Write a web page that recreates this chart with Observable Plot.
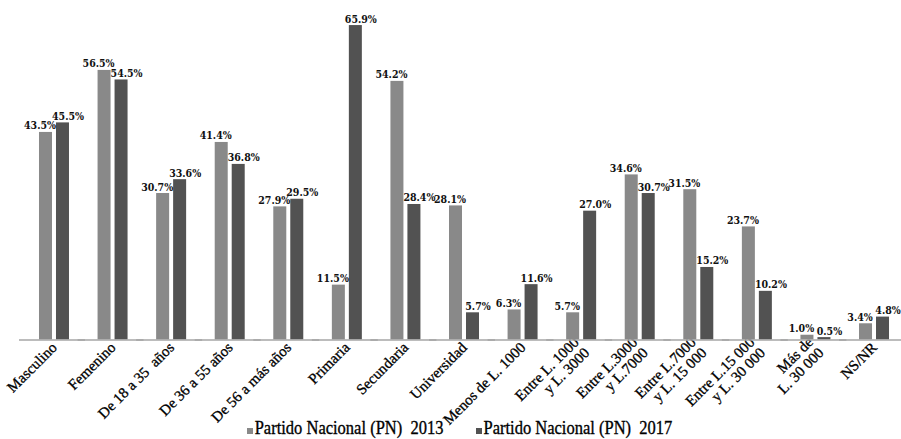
<!DOCTYPE html>
<html>
<head>
<meta charset="utf-8">
<script src="https://cdn.jsdelivr.net/npm/d3@7"></script>
<script src="https://cdn.jsdelivr.net/npm/@observablehq/plot@0.6"></script>
<style>
  html, body { margin: 0; padding: 0; background: #fff; }
  #chart { width: 901px; height: 439px; overflow: hidden; position: relative; }
  #legend { position: absolute; left: 0; top: 418px; width: 901px; height: 21px; line-height: 21px;
    display: flex; justify-content: center; align-items: baseline; gap: 32px;
    font-family: "Liberation Serif", serif; font-size: 16.5px; color: #000; padding-left: 18px; box-sizing: border-box; }
  .item { display: flex; align-items: baseline; white-space: pre; }
  .txt { display: inline-block; transform: scaleY(1.18); transform-origin: 50% 80%; -webkit-text-stroke: 0.3px #000; }
  .sw { width: 6px; height: 6px; display: inline-block; margin-right: 2px; }
</style>
</head>
<body>
<div id="chart"></div>
<script>
const categories = [
  "Masculino", "Femenino", "De 18 a 35  años", "De 36 a 55 años", "De 56 a más años",
  "Primaria", "Secundaria", "Universidad", "Menos de L. 1000",
  "Entre L. 1000\ny L. 3000", "Entre L.3000\ny L.7000", "Entre L.7000\ny L. 15 000",
  "Entre L.15 000\ny L. 30 000", "Más de\nL. 30 000", "NS/NR"
];
const seriesNames = ["Partido Nacional (PN)  2013", "Partido Nacional (PN)  2017"];
const seriesKeys = ["2013", "2017"];
const values2013 = [43.5, 56.5, 30.7, 41.4, 27.9, 11.5, 54.2, 28.1, 6.3, 5.7, 34.6, 31.5, 23.7, 1.0, 3.4];
const values2017 = [45.5, 54.5, 33.6, 36.8, 29.5, 65.9, 28.4, 5.7, 11.6, 27.0, 30.7, 15.2, 10.2, 0.5, 4.8];
const colors = ["#898989", "#525252"];

const data = [];
categories.forEach((c, i) => {
  data.push({cat: c, year: seriesKeys[0], value: values2013[i]});
  data.push({cat: c, year: seriesKeys[1], value: values2017[i]});
});

const labelFont = {fontFamily: "'DejaVu Serif Condensed', 'DejaVu Serif', serif", fontWeight: "bold", fontSize: 10.5, fill: "#111"};

const plot = Plot.plot({
  width: 901,
  height: 439,
  marginLeft: 24.7,
  marginRight: -2.3,
  marginTop: 5.5,
  marginBottom: 99.5,
  style: {fontFamily: "'Liberation Serif', serif", fontSize: "15px", color: "#000", background: "transparent", overflow: "visible"},
  fx: {domain: categories, paddingInner: 0.488, paddingOuter: 0.244, round: false, label: null, axis: "bottom",
       tickRotate: -45, tickSize: 0, tickPadding: 5},
  x: {domain: seriesKeys, paddingInner: 0.235, paddingOuter: 0, round: false, axis: null},
  y: {domain: [0, 70], axis: null},
  color: {domain: seriesKeys, range: colors},
  marks: [
    Plot.barY(data, {fx: "cat", x: "year", y: "value", fill: "year"}),
    Plot.ruleY([0], {stroke: "#a6a6a6", strokeWidth: 1.5, insetLeft: -20, insetRight: -16}),
    Plot.text(data.filter(d => d.year === seriesKeys[0]), {fx: "cat", x: "year", y: "value",
      text: d => d.value.toFixed(1) + "%", dy: -3, dx: -6, lineAnchor: "bottom", ...labelFont}),
    Plot.text(data.filter(d => d.year === seriesKeys[1]), {fx: "cat", x: "year", y: "value",
      text: d => d.value.toFixed(1) + "%", dy: -3, dx: 5, lineAnchor: "bottom", ...labelFont})
  ]
});
// slightly heavier category labels, like the reference
plot.querySelectorAll('g[aria-label="fx-axis tick label"] text, g[aria-label="fx-axis"] text').forEach(t => {
  t.style.stroke = "#000";
  t.style.strokeWidth = "0.3px";
});
document.getElementById("chart").appendChild(plot);

const legend = document.createElement("div");
legend.id = "legend";
seriesNames.forEach((name, i) => {
  const item = document.createElement("span");
  item.className = "item";
  const sw = document.createElement("span");
  sw.className = "sw";
  sw.style.background = colors[i];
  item.appendChild(sw);
  const t = document.createElement("span");
  t.className = "txt";
  t.textContent = name;
  item.appendChild(t);
  legend.appendChild(item);
});
document.getElementById("chart").appendChild(legend);
</script>
</body>
</html>
